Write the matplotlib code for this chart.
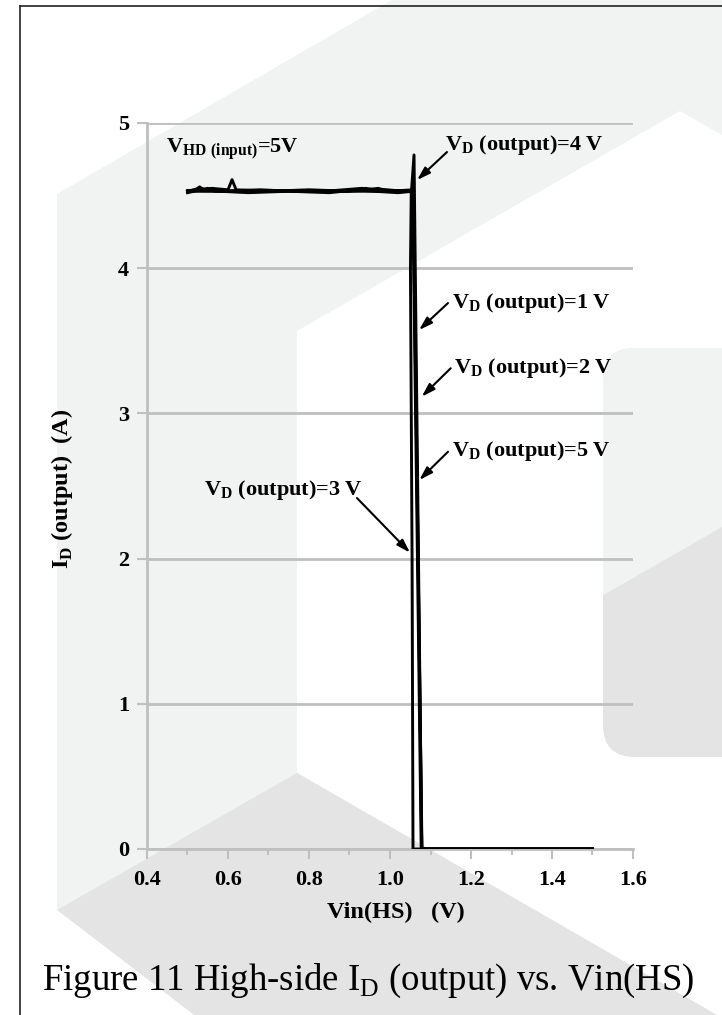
import matplotlib
matplotlib.use("Agg")
import matplotlib.pyplot as plt
import matplotlib.transforms as mtransforms
from matplotlib.patches import Polygon, FancyBboxPatch
from matplotlib.lines import Line2D

plt.rcParams['font.family'] = ['Liberation Serif', 'DejaVu Serif']
plt.rcParams['mathtext.fontset'] = 'custom'
plt.rcParams['mathtext.rm'] = 'Liberation Serif'
plt.rcParams['mathtext.bf'] = 'Liberation Serif:bold'

# data
vd1_x = [0.50, 0.52, 0.53, 0.54, 0.56, 0.60, 0.61, 0.62, 0.70, 0.80, 0.90, 0.94, 0.95, 0.97, 1.00, 1.056, 1.077, 1.50]
vd1_y = [4.53, 4.54, 4.56, 4.54, 4.55, 4.54, 4.61, 4.54, 4.53, 4.53, 4.53, 4.55, 4.54, 4.55, 4.53, 4.54, 0.00, 0.00]

vd2_x = [0.50, 0.55, 0.58, 0.65, 0.75, 0.85, 0.92, 0.96, 1.02, 1.057, 1.079, 1.50]
vd2_y = [4.52, 4.55, 4.53, 4.52, 4.53, 4.52, 4.54, 4.53, 4.52, 4.53, 0.00, 0.00]

vd3_x = [0.50, 0.60, 0.70, 0.80, 0.90, 1.00, 1.0525, 1.0505, 1.0545, 1.0568, 1.50]
vd3_y = [4.53, 4.53, 4.53, 4.54, 4.53, 4.53, 4.53, 4.00, 2.00, 0.00, 0.00]

vd4_x = [0.50, 0.53, 0.57, 0.68, 0.76, 0.88, 0.98, 1.053, 1.0593, 1.0783, 1.50]
vd4_y = [4.53, 4.55, 4.53, 4.54, 4.53, 4.53, 4.54, 4.53, 4.78, 0.00, 0.00]

vd5_x = [0.50, 0.62, 0.72, 0.84, 0.93, 1.01, 1.058, 1.0785, 1.50]
vd5_y = [4.535, 4.53, 4.535, 4.53, 4.55, 4.535, 4.53, 0.00, 0.00]

x_ticks = [0.4, 0.6, 0.8, 1.0, 1.2, 1.4, 1.6]
x_tick_labels = ["0.4", "0.6", "0.8", "1.0", "1.2", "1.4", "1.6"]
y_ticks = [0, 1, 2, 3, 4, 5]

fig = plt.figure(figsize=(7.22, 10.15), dpi=100)
fig.patch.set_facecolor('white')

# pixel coordinates measured from top-left
pix = mtransforms.Affine2D().scale(1 / 722, -1 / 1015).translate(0, 1) + fig.transFigure

light = '#f1f2f2'
dark = '#e4e4e4'

def bg(points, color, z=-5):
    p = Polygon(points, closed=True, facecolor=color, edgecolor='none', transform=pix, zorder=z)
    fig.add_artist(p)
    return p

# background watermark
bg([(57, 194), (392, 0), (722, 0), (722, 1015), (57, 1015)], light, -6)
bg([(297, 331), (680, 111), (722, 135), (722, 1015), (297, 1015)], 'white', -5)
bg([(57, 910), (297, 773), (722, 1018), (722, 1015), (194, 1015)], dark, -4)
bg([(297, 773), (722, 1018), (722, 1015), (297, 1015)], dark, -4)
bg([(57, 910), (194, 1015), (57, 1015)], 'white', -4)

rr = FancyBboxPatch((603, 348), 160, 409, boxstyle="round,pad=0,rounding_size=32",
                    facecolor=dark, edgecolor='none', transform=pix, zorder=-3)
fig.add_artist(rr)
top_part = bg([(600, 340), (722, 340), (722, 527), (600, 597)], light, -2)
top_part.set_clip_path(rr)

# frame
fig.add_artist(Line2D([19.5, 19.5], [6, 1015], color='#222222', lw=1.2, transform=pix))
fig.add_artist(Line2D([19.5, 722], [6, 6], color='#222222', lw=1.2, transform=pix))

ax = fig.add_axes([147 / 722, 1 - 849 / 1015, 486 / 722, 726 / 1015])
ax.set_facecolor('none')

for xs, ys in [(vd1_x, vd1_y), (vd2_x, vd2_y), (vd3_x, vd3_y), (vd4_x, vd4_y), (vd5_x, vd5_y)]:
    ax.plot(xs, ys, color='black', lw=2.1, solid_joinstyle='round', zorder=3)

ax.set_xlim(0.4, 1.6)
ax.set_ylim(0, 5)
ax.set_xticks(x_ticks)
ax.set_xticklabels(x_tick_labels)
ax.set_xticks([0.5, 0.7, 0.9, 1.1, 1.3, 1.5], minor=True)
ax.set_yticks(y_ticks)

gray = '#bfbfbf'
ax.grid(axis='y', color=gray, lw=2.0)
ax.set_axisbelow(True)
for s in ['top', 'right']:
    ax.spines[s].set_visible(False)
for s in ['left', 'bottom']:
    ax.spines[s].set_color(gray)
    ax.spines[s].set_linewidth(2.0)
ax.tick_params(axis='both', which='major', direction='out', length=7, width=1.5, color=gray,
               labelsize=16, pad=6)
ax.tick_params(axis='x', which='major', pad=8)
ax.tick_params(axis='x', which='minor', direction='out', length=4, width=1.5, color=gray)
for lab in ax.get_xticklabels() + ax.get_yticklabels():
    lab.set_fontweight('bold')

ax.set_xlabel("Vin(HS)   (V)", fontsize=17.5, fontweight='bold')
ax.xaxis.set_label_coords((396 - 147) / 486, -(912 - 849) / 726)
ax.xaxis.label.set_va('center')
ax.set_ylabel(r"I$_\mathregular{D}$ (output)  (A)", fontsize=17.5, fontweight='bold')
ax.yaxis.set_label_coords((62 - 147) / 486, (849 - 489) / 726)
ax.yaxis.label.set_va('center')

tf = dict(fontsize=16, fontweight='bold', va='baseline', ha='left', zorder=5)
ax.text(0.4469, 4.793, r"V$_\mathregular{HD\ (input)}$=5V", **tf)
ax.text(1.1358, 4.814, r"V$_\mathregular{D}$ (output)=4 V", **tf)
ax.text(1.1523, 3.726, r"V$_\mathregular{D}$ (output)=1 V", **tf)
ax.text(1.1580, 3.280, r"V$_\mathregular{D}$ (output)=2 V", **tf)
ax.text(1.1523, 2.707, r"V$_\mathregular{D}$ (output)=5 V", **tf)
ax.text(0.5407, 2.438, r"V$_\mathregular{D}$ (output)=3 V", **tf)

arrow = dict(arrowstyle='-|>,head_length=0.8,head_width=0.25', color='black', lw=1.5,
             shrinkA=0, shrinkB=0)
ax.annotate('', xy=(1.0667, 4.607), xytext=(1.1407, 4.800), arrowprops=arrow)
ax.annotate('', xy=(1.0716, 3.574), xytext=(1.1432, 3.760), arrowprops=arrow)
ax.annotate('', xy=(1.0783, 3.115), xytext=(1.1499, 3.311), arrowprops=arrow)
ax.annotate('', xy=(1.0723, 2.541), xytext=(1.1432, 2.736), arrowprops=arrow)
ax.annotate('', xy=(1.0494, 2.041), xytext=(0.9185, 2.417), arrowprops=arrow)

fig.text(368 / 722, 1 - 990 / 1015, r"Figure 11 High-side I$_\mathregular{D}$ (output) vs. Vin(HS)",
         fontsize=26.5, ha='center', va='baseline')

fig.savefig('out.png', dpi=100)
